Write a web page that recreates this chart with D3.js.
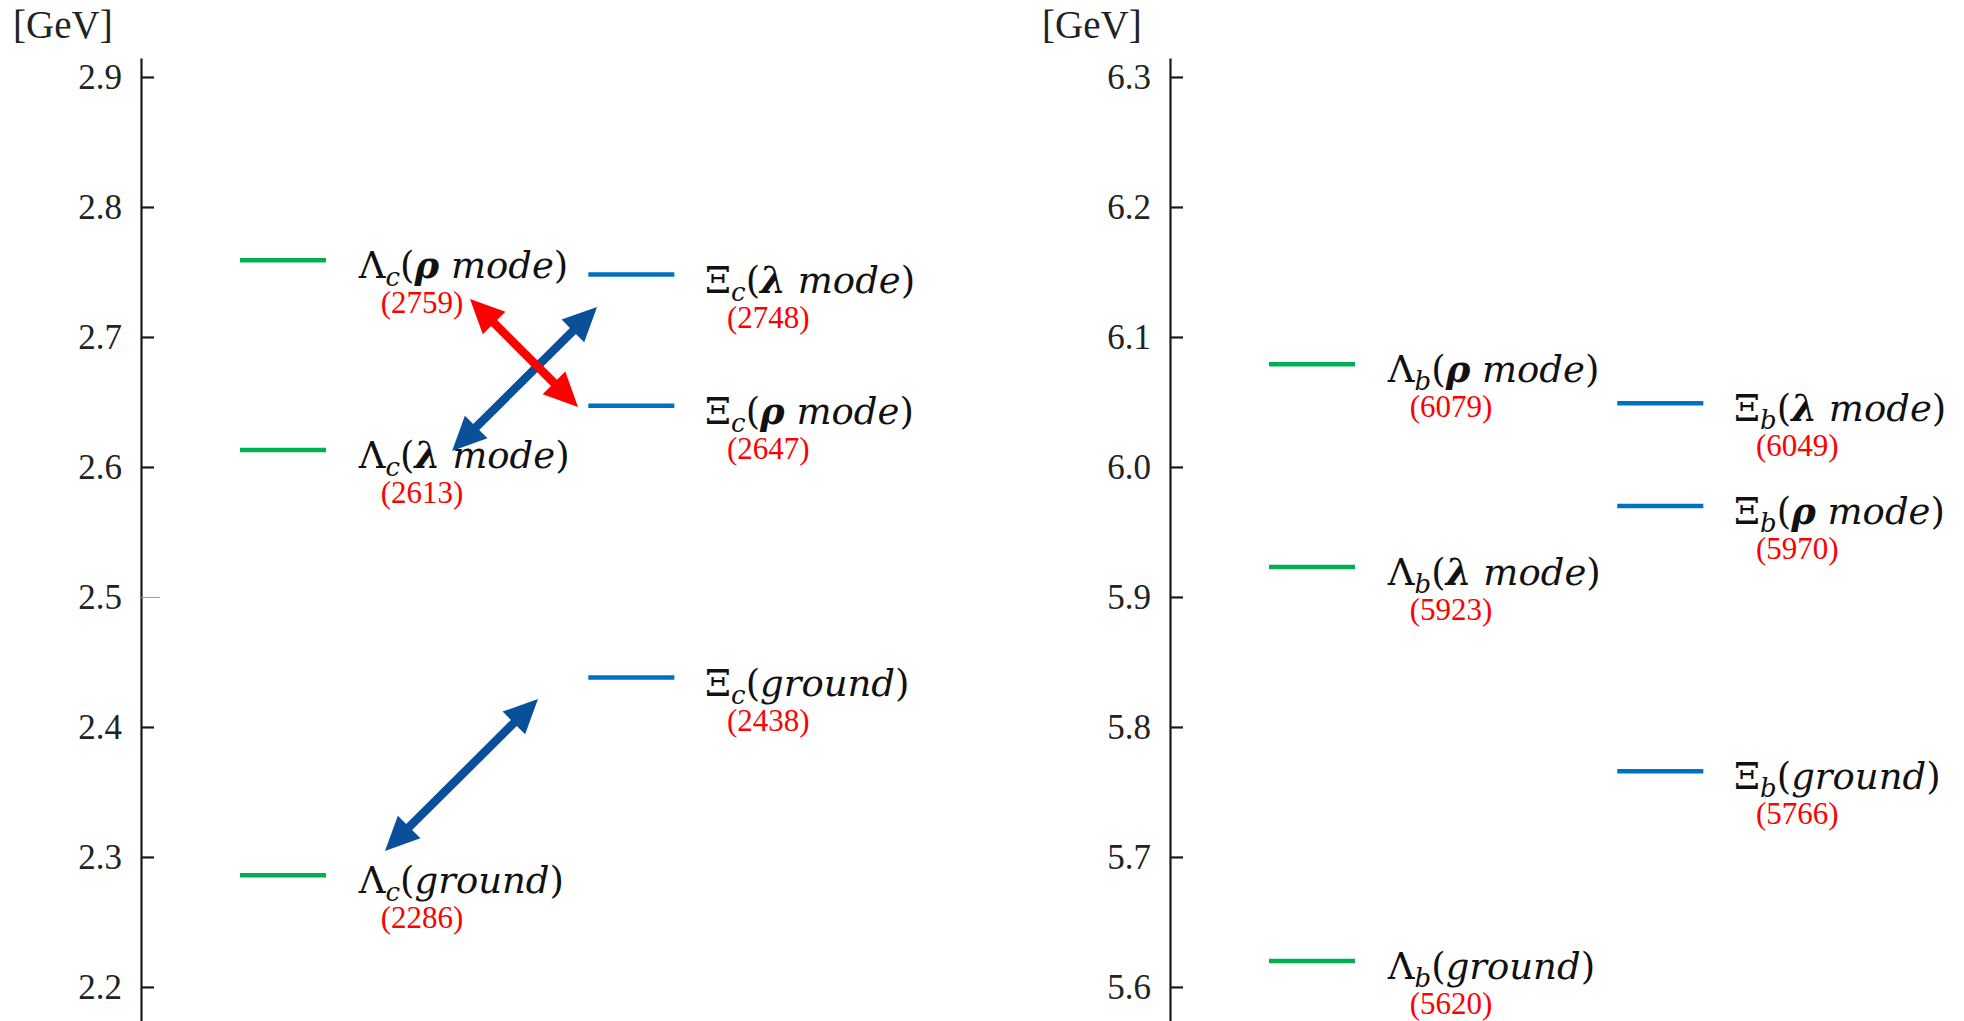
<!DOCTYPE html>
<html>
<head>
<meta charset="utf-8">
<script src="https://cdn.jsdelivr.net/npm/d3@7"></script>
<style>
  body { margin: 0; background: #fff; }
  svg { display: block; }
</style>
</head>
<body>
<div id="chart"></div>
<script>
// tick labels (GeV)
const charmTicks = [2.2, 2.3, 2.4, 2.5, 2.6, 2.7, 2.8, 2.9];
const bottomTicks = [5.6, 5.7, 5.8, 5.9, 6.0, 6.1, 6.2, 6.3];

// masses in MeV
const charmLambdaMass = [2286, 2613, 2759];
const charmLambdaMode = ["ground", "λ", "ρ"];
const charmXiMass = [2438, 2647, 2748];
const charmXiMode = ["ground", "ρ", "λ"];

const bottomLambdaMass = [5620, 5923, 6079];
const bottomLambdaMode = ["ground", "λ", "ρ"];
const bottomXiMass = [5766, 5970, 6049];
const bottomXiMode = ["ground", "ρ", "λ"];

// arrows in the charm panel: pair mode, ends as [x fraction of panel, GeV]
const arrowMode = ["ground", "λ", "ρ"];
const arrowFrom = [[0.2711, 2.3046], [0.3456, 2.6123], [0.3656, 2.7292]];
const arrowTo   = [[0.4411, 2.4215], [0.5067, 2.7231], [0.4856, 2.6462]];

var width = 1964, height = 1021;
var green = "#00b050", blue = "#0070c0", arrowBlue = "#0a4f9a", red = "#ff0000";

var svg = d3.select("#chart").append("svg")
    .attr("width", width)
    .attr("height", height);

function label(g, x, y, baryon, flavour, mode) {
  var t = g.append("text")
      .attr("x", x).attr("y", y)
      .style("font-family", "'DejaVu Serif', serif")
      .style("font-size", "37px")
      .attr("fill", "#111");
  t.append("tspan").text(baryon);
  t.append("tspan").attr("dy", 8)
      .style("font-size", "26px").style("font-style", "italic")
      .text(flavour);
  t.append("tspan").attr("dy", -8).text("(");
  if (mode == "ground") {
    t.append("tspan").style("font-style", "italic").text("ground");
  } else {
    t.append("tspan").style("font-style", "italic").style("font-weight", "bold").text(mode);
    t.append("tspan").style("font-style", "italic").text(" mode");
  }
  t.append("tspan").text(")");
}

function arrowPath(x1, y1, x2, y2) {
  var headLen = 34, headW = 32, shaft = 8.5;
  var dx = x2 - x1, dy = y2 - y1, len = Math.sqrt(dx * dx + dy * dy);
  var ux = dx / len, uy = dy / len, nx = -uy, ny = ux;
  var b1 = [x1 + ux * headLen, y1 + uy * headLen];
  var b2 = [x2 - ux * headLen, y2 - uy * headLen];
  var pts = [
    [x1, y1],
    [b1[0] + nx * headW / 2, b1[1] + ny * headW / 2],
    [b1[0] + nx * shaft / 2, b1[1] + ny * shaft / 2],
    [b2[0] + nx * shaft / 2, b2[1] + ny * shaft / 2],
    [b2[0] + nx * headW / 2, b2[1] + ny * headW / 2],
    [x2, y2],
    [b2[0] - nx * headW / 2, b2[1] - ny * headW / 2],
    [b2[0] - nx * shaft / 2, b2[1] - ny * shaft / 2],
    [b1[0] - nx * shaft / 2, b1[1] - ny * shaft / 2],
    [b1[0] - nx * headW / 2, b1[1] - ny * headW / 2]
  ];
  return "M" + pts.join("L") + "Z";
}

function panel(axisX, ticks, flavour, lMass, lMode, xMass, xMode, faint, arrows) {
  var g = svg.append("g").attr("transform", "translate(" + axisX + ",0)");

  var y = d3.scaleLinear()
      .domain([ticks[0] - 0.0262, ticks[ticks.length - 1] + 0.0146])
      .range([height, 58]);
  var x = d3.scaleLinear().domain([0, 1]).range([0, 900]);

  var axis = g.append("g")
      .call(d3.axisLeft(y)
        .tickValues(ticks)
        .tickFormat(d3.format(".1f"))
        .tickSize(-13)
        .tickSizeOuter(0)
        .tickPadding(19));
  axis.select(".domain").attr("stroke", "#1a1a1a").attr("stroke-width", 2.2);
  axis.selectAll(".tick line").attr("stroke", "#1a1a1a").attr("stroke-width", 2.2);
  axis.selectAll(".tick text")
      .style("font-family", "'Liberation Serif', serif")
      .style("font-size", "35px")
      .attr("fill", "#222");
  axis.selectAll(".tick").filter(function(d) { return faint.indexOf(d) >= 0; })
      .select("line").attr("stroke", "#999").attr("stroke-width", 1).attr("x2", 19);

  g.append("text")
      .attr("x", -128).attr("y", 38)
      .style("font-family", "'Liberation Serif', serif")
      .style("font-size", "39px")
      .attr("fill", "#222")
      .text("[GeV]");

  var cols = [
    {mass: lMass, mode: lMode, baryon: "Λ", color: green, x0: 0.11, lx: 0.242},
    {mass: xMass, mode: xMode, baryon: "Ξ", color: blue, x0: 0.497, lx: 0.6267}
  ];

  cols.forEach(function(c) {
    c.mass.forEach(function(m, i) {
      var yy = y(m / 1000);
      g.append("line")
          .attr("x1", x(c.x0)).attr("x2", x(c.x0 + 0.0956))
          .attr("y1", yy).attr("y2", yy)
          .attr("stroke", c.color)
          .attr("stroke-width", 4.5);
      label(g, x(c.lx), yy + 18, c.baryon, flavour, c.mode[i]);
      g.append("text")
          .attr("x", x(c.lx + 0.0244)).attr("y", yy + 53)
          .style("font-family", "'Liberation Serif', serif")
          .style("font-size", "31px")
          .attr("fill", red)
          .text("(" + m + ")");
    });
  });

  if (arrows) {
    var order = [0, 1, 2];
    order.forEach(function(i) {
      g.append("path")
          .attr("d", arrowPath(x(arrowFrom[i][0]), y(arrowFrom[i][1]), x(arrowTo[i][0]), y(arrowTo[i][1])))
          .attr("fill", arrowMode[i] == "ρ" ? red : arrowBlue);
    });
  }
}

panel(141, charmTicks, "c", charmLambdaMass, charmLambdaMode, charmXiMass, charmXiMode, [2.5], true);
panel(1170, bottomTicks, "b", bottomLambdaMass, bottomLambdaMode, bottomXiMass, bottomXiMode, [], false);
</script>
</body>
</html>
